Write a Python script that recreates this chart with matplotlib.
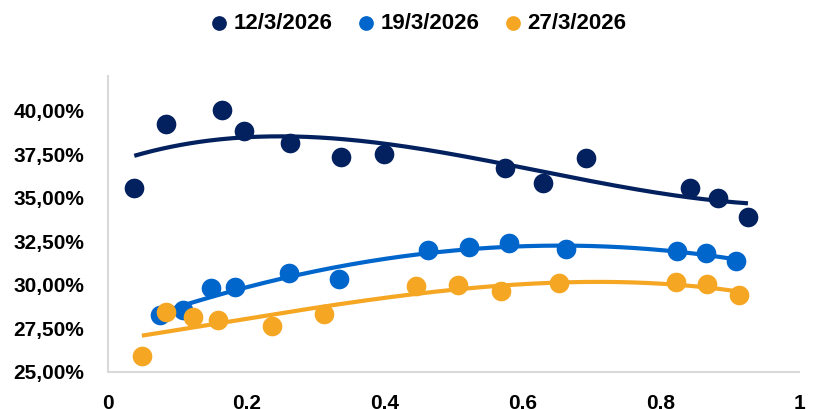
import numpy as np
import matplotlib
matplotlib.use("Agg")
import matplotlib.pyplot as plt
from matplotlib.ticker import FuncFormatter

plt.rcParams['font.family'] = ['Liberation Sans', 'DejaVu Sans']
plt.rcParams['font.weight'] = 'bold'

labels = ['12/3/2026', '19/3/2026', '27/3/2026']
colors = ['#03215F', '#0066CC', '#F5A623']

x_12 = [0.038, 0.084, 0.165, 0.197, 0.264, 0.337, 0.400, 0.574, 0.629, 0.692, 0.842, 0.883, 0.926]
y_12 = [35.58, 39.24, 40.05, 38.84, 38.16, 37.36, 37.53, 36.73, 35.87, 37.30, 35.58, 35.01, 33.92]

x_19 = [0.075, 0.108, 0.149, 0.184, 0.262, 0.334, 0.463, 0.522, 0.580, 0.662, 0.824, 0.866, 0.909]
y_19 = [28.26, 28.55, 29.80, 29.86, 30.66, 30.32, 31.98, 32.15, 32.38, 32.04, 31.92, 31.86, 31.35]

x_27 = [0.049, 0.084, 0.123, 0.159, 0.238, 0.312, 0.446, 0.507, 0.569, 0.653, 0.822, 0.867, 0.913]
y_27 = [25.92, 28.43, 28.15, 27.97, 27.63, 28.32, 29.92, 29.98, 29.63, 30.09, 30.15, 30.03, 29.40]

series = [(x_12, y_12), (x_19, y_19), (x_27, y_27)]

fig = plt.figure(figsize=(8.14, 4.09), dpi=100)
ax = fig.add_axes([0.1327, 0.0905, 0.849, 0.7237])

for (xs, ys), c, lab in zip(series, colors, labels):
    xs = np.array(xs)
    ys = np.array(ys)
    ax.scatter(xs, ys, s=200, color=c, zorder=3, label=lab, linewidths=0)
    # polynomial trendline over the data range
    p = np.polyfit(xs, ys, 3)
    xx = np.linspace(xs.min(), xs.max(), 200)
    ax.plot(xx, np.polyval(p, xx), color=c, lw=3, zorder=2, solid_capstyle='butt')

ax.set_xlim(0, 1)
ax.set_ylim(25, 42)
ax.set_xticks([0, 0.2, 0.4, 0.6, 0.8, 1])
ax.set_xticklabels(['0', '0.2', '0.4', '0.6', '0.8', '1'])
ax.set_yticks([25, 27.5, 30, 32.5, 35, 37.5, 40])
ax.yaxis.set_major_formatter(FuncFormatter(lambda v, _: f'{v:.2f}%'.replace('.', ',')))
ax.tick_params(length=0, labelsize=15, colors='black')
ax.tick_params(axis='x', pad=16)
ax.tick_params(axis='y', pad=17)
for s in ['top', 'right']:
    ax.spines[s].set_visible(False)
for s in ['left', 'bottom']:
    ax.spines[s].set_color('#D9D9D9')
    ax.spines[s].set_linewidth(1.5)

leg = fig.legend(loc='center', bbox_to_anchor=(0.514, 0.942), ncol=3, frameon=False,
                 fontsize=16, handlelength=0.8, handletextpad=0.25, columnspacing=1.1,
                 markerscale=0.75)

fig.savefig('out.png', dpi=100)
